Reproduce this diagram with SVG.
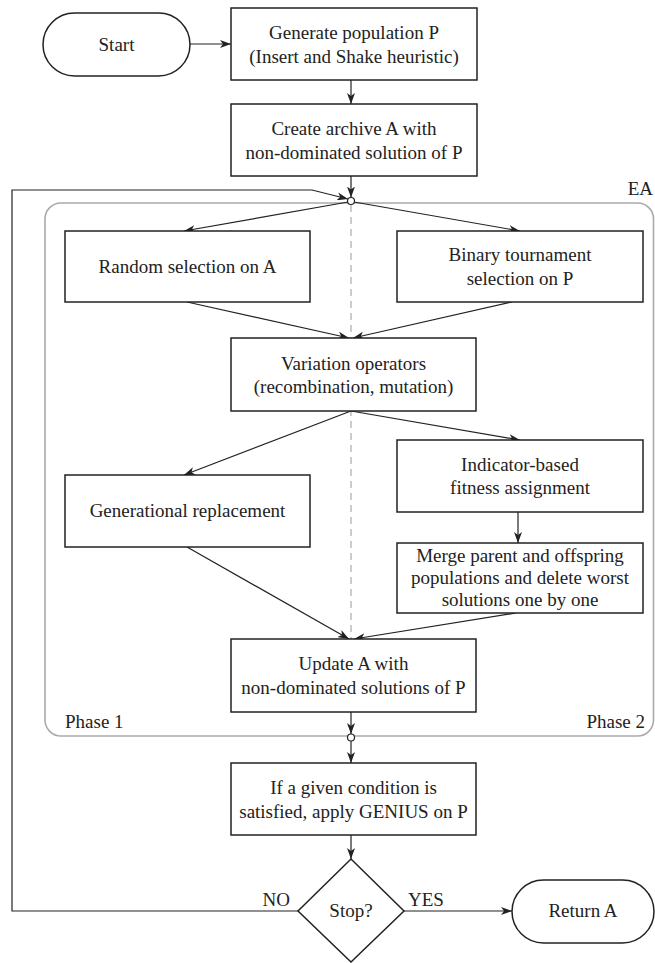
<svg xmlns="http://www.w3.org/2000/svg" width="655" height="963" viewBox="0 0 655 963">
<style>
.box{fill:#fff;stroke:#222;stroke-width:1.5}
.t{font-family:"Liberation Serif","Times New Roman",serif;font-size:19px;fill:#222;text-anchor:middle}
.l{font-family:"Liberation Serif","Times New Roman",serif;font-size:19px;fill:#222}
.c{fill:none;stroke:#222;stroke-width:1.2}
.ea{fill:none;stroke:#aaa;stroke-width:1.6}
.dash{fill:none;stroke:#aaa;stroke-width:1.2;stroke-dasharray:7 5}
.dot{fill:#fff;stroke:#222;stroke-width:1.2}
</style>
<defs>
<marker id="ah" markerUnits="userSpaceOnUse" markerWidth="12" markerHeight="8" refX="11" refY="4" orient="auto">
<path d="M0,0 L11,4 L0,8 L3,4 z" fill="#222"/>
</marker>
</defs>
<g id="ea-container">
<rect class="ea" x="45" y="203" width="608.5" height="533" rx="16"/>
<text class="l" x="653" y="195" text-anchor="end">EA</text>
<text class="l" x="65" y="728">Phase 1</text>
<text class="l" x="645" y="728" text-anchor="end">Phase 2</text>
<line class="dash" x1="351" y1="205" x2="351" y2="639"/>
</g>
<g id="connectors">
<line class="c" x1="190" y1="44" x2="231" y2="44" marker-end="url(#ah)"/>
<line class="c" x1="351" y1="80" x2="351" y2="104" marker-end="url(#ah)"/>
<line class="c" x1="351" y1="176" x2="351" y2="197.5" marker-end="url(#ah)"/>
<polyline class="c" points="298,911 12,911 12,190 312,190 348,199" marker-end="url(#ah)"/>
<line class="c" x1="348" y1="202" x2="184" y2="231" marker-end="url(#ah)"/>
<line class="c" x1="354" y1="202" x2="520" y2="231" marker-end="url(#ah)"/>
<line class="c" x1="187" y1="302" x2="349" y2="338" marker-end="url(#ah)"/>
<line class="c" x1="512" y1="302" x2="353" y2="338" marker-end="url(#ah)"/>
<line class="c" x1="351" y1="411" x2="184" y2="475" marker-end="url(#ah)"/>
<line class="c" x1="351" y1="411" x2="520" y2="440" marker-end="url(#ah)"/>
<line class="c" x1="518" y1="512" x2="518" y2="543" marker-end="url(#ah)"/>
<line class="c" x1="187" y1="547" x2="349" y2="639" marker-end="url(#ah)"/>
<line class="c" x1="516" y1="613" x2="354" y2="639" marker-end="url(#ah)"/>
<line class="c" x1="351" y1="712" x2="351" y2="734" marker-end="url(#ah)"/>
<line class="c" x1="351" y1="741" x2="351" y2="763" marker-end="url(#ah)"/>
<line class="c" x1="351" y1="835" x2="351" y2="859" marker-end="url(#ah)"/>
<line class="c" x1="404" y1="911" x2="512" y2="911" marker-end="url(#ah)"/>
<circle class="dot" cx="351" cy="201" r="3.5"/>
<circle class="dot" cx="351" cy="737.5" r="3.5"/>
<text class="l" x="290" y="906" text-anchor="end">NO</text>
<text class="l" x="408" y="906">YES</text>
</g>
<g id="start">
<rect class="box" x="43" y="13" width="147" height="63" rx="31.5"/>
<text class="t" x="116.5" y="51">Start</text>
</g>
<g id="generate">
<rect class="box" x="231" y="8" width="246" height="72"/>
<text class="t" x="354" y="39">Generate population P</text>
<text class="t" x="354" y="62.5">(Insert and Shake heuristic)</text>
</g>
<g id="create">
<rect class="box" x="231" y="104" width="246" height="72"/>
<text class="t" x="354" y="135">Create archive A with</text>
<text class="t" x="354" y="158.5">non-dominated solution of P</text>
</g>
<g id="random">
<rect class="box" x="65" y="231" width="245" height="71"/>
<text class="t" x="187.5" y="273">Random selection on A</text>
</g>
<g id="binary">
<rect class="box" x="397" y="231" width="246" height="71"/>
<text class="t" x="520" y="261">Binary tournament</text>
<text class="t" x="520" y="284.5">selection on P</text>
</g>
<g id="variation">
<rect class="box" x="231" y="338" width="245" height="73"/>
<text class="t" x="353.5" y="369.5">Variation operators</text>
<text class="t" x="353.5" y="393">(recombination, mutation)</text>
</g>
<g id="generational">
<rect class="box" x="65" y="475" width="245" height="72"/>
<text class="t" x="187.5" y="517">Generational replacement</text>
</g>
<g id="indicator">
<rect class="box" x="397" y="440" width="246" height="72"/>
<text class="t" x="520" y="470.5">Indicator-based</text>
<text class="t" x="520" y="494">fitness assignment</text>
</g>
<g id="merge">
<rect class="box" x="397" y="543" width="246" height="70"/>
<text class="t" x="520" y="562">Merge parent and offspring</text>
<text class="t" x="520" y="584">populations and delete worst</text>
<text class="t" x="520" y="606">solutions one by one</text>
</g>
<g id="update">
<rect class="box" x="231" y="639" width="245" height="73"/>
<text class="t" x="353.5" y="670">Update A with</text>
<text class="t" x="353.5" y="694">non-dominated solutions of P</text>
</g>
<g id="genius">
<rect class="box" x="231" y="763" width="245" height="72"/>
<text class="t" x="353.5" y="794">If a given condition is</text>
<text class="t" x="353.5" y="817.5">satisfied, apply GENIUS on P</text>
</g>
<g id="stop">
<polygon class="box" points="351,859 404,911 351,962 298,911"/>
<text class="t" x="351" y="917">Stop?</text>
</g>
<g id="return">
<rect class="box" x="512" y="880" width="142" height="63" rx="31.5"/>
<text class="t" x="583" y="917">Return A</text>
</g>
</svg>
